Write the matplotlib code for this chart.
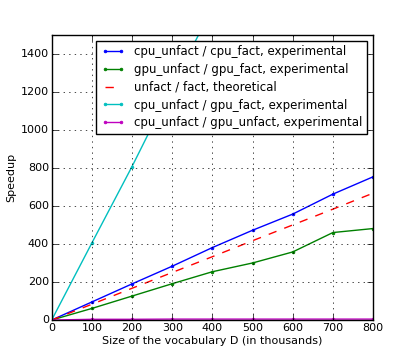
import matplotlib
matplotlib.use("Agg")
import matplotlib.pyplot as plt

plt.style.use("classic")

vocab = [0, 100, 200, 300, 400, 500, 600, 700, 800]
cpu_fact = [0, 95, 190, 283, 381, 472, 557, 662, 753]
gpu_fact = [0, 61, 126, 191, 254, 300, 358, 460, 481]
theoretical = [0, 83, 167, 250, 333, 417, 500, 583, 667]
cpu_gpu_fact = [0, 405, 807, 1230, 1640, 2050, 2460, 2880, 3290]
cpu_gpu_unfact = [0, 4, 4, 5, 5, 5, 5, 5, 5]

fig = plt.figure(figsize=(4.15, 3.56), dpi=100)
ax = fig.add_axes([0.1245, 0.101, 0.7745, 0.8015])

ax.plot(vocab, cpu_fact, "b.-", markersize=4,
        label="cpu_unfact / cpu_fact, experimental")
ax.plot(vocab, gpu_fact, "g.-", markersize=4,
        label="gpu_unfact / gpu_fact, experimental")
ax.plot(vocab, theoretical, "r--", label="unfact / fact, theoretical")
ax.plot(vocab, cpu_gpu_fact, "c.-", markersize=4,
        label="cpu_unfact / gpu_fact, experimental")
ax.plot(vocab, cpu_gpu_unfact, "m.-", markersize=4,
        label="cpu_unfact / gpu_unfact, experimental")

ax.set_xlim(0, 800)
ax.set_ylim(0, 1500)
ax.set_yticks(range(0, 1401, 200))
ax.tick_params(labelsize=8, pad=2)
ax.set_xlabel("Size of the vocabulary D (in thousands)", fontsize=8, labelpad=2)
ax.set_ylabel("Speedup", fontsize=8, labelpad=3)
ax.grid(True)
ax.legend(loc="upper right", fontsize=8.5, numpoints=2, labelspacing=0.4)

fig.savefig("out.png", dpi=100)
